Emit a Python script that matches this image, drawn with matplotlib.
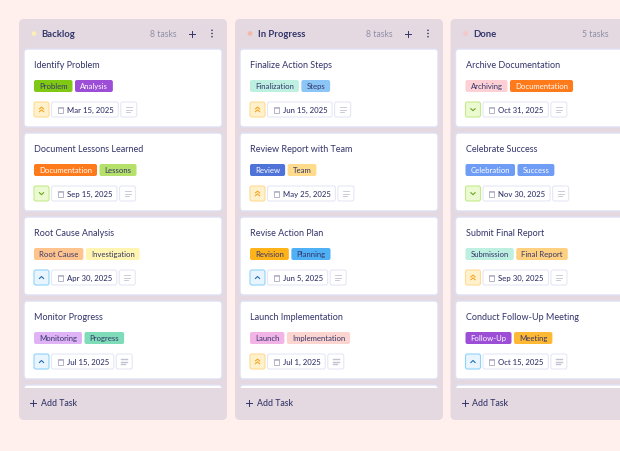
import matplotlib
matplotlib.use('Agg')
import matplotlib.pyplot as plt
from matplotlib.patches import FancyBboxPatch, Circle, Rectangle

plt.rcParams['font.family'] = ['Lato', 'DejaVu Sans']

NAVY = '#33356a'
GREY = '#8f8fa8'
WHITE = '#ffffff'

columns = ['Backlog', 'In Progress', 'Done']
task_counts = ['8 tasks', '8 tasks', '5 tasks']
dot_colors = ['#fdeeb5', '#f3b9a8', '#f6c8cc']

titles = [
    ['Identify Problem', 'Document Lessons Learned', 'Root Cause Analysis', 'Monitor Progress'],
    ['Finalize Action Steps', 'Review Report with Team', 'Revise Action Plan', 'Launch Implementation'],
    ['Archive Documentation', 'Celebrate Success', 'Submit Final Report', 'Conduct Follow-Up Meeting'],
]
dates = [
    ['Mar 15, 2025', 'Sep 15, 2025', 'Apr 30, 2025', 'Jul 15, 2025'],
    ['Jun 15, 2025', 'May 25, 2025', 'Jun 5, 2025', 'Jul 1, 2025'],
    ['Oct 31, 2025', 'Nov 30, 2025', 'Sep 30, 2025', 'Oct 15, 2025'],
]
priorities = [
    ['high', 'low', 'medium', 'medium'],
    ['high', 'high', 'medium', 'high'],
    ['low', 'low', 'high', 'medium'],
]
tags = [
    [('Problem', 'Analysis'), ('Documentation', 'Lessons'), ('Root Cause', 'Investigation'), ('Monitoring', 'Progress')],
    [('Finalization', 'Steps'), ('Review', 'Team'), ('Revision', 'Planning'), ('Launch', 'Implementation')],
    [('Archiving', 'Documentation'), ('Celebration', 'Success'), ('Submission', 'Final Report'), ('Follow-Up', 'Meeting')],
]
tag_colors = {
    'Problem': '#7fc914', 'Analysis': '#9c4fd6', 'Documentation': '#ff7a1a', 'Lessons': '#b5e06a',
    'Root Cause': '#ffc48e', 'Investigation': '#fff4b0', 'Monitoring': '#e0b3f7', 'Progress': '#7fdcb8',
    'Finalization': '#bdf0e0', 'Steps': '#8cc6f7', 'Review': '#4f73d9', 'Team': '#ffdb8c',
    'Revision': '#ffb31a', 'Planning': '#4fb0f5', 'Launch': '#f2b3e6', 'Implementation': '#fcd4d0',
    'Archiving': '#fcd0d4', 'Celebration': '#6f9cf5', 'Success': '#6f9cf5', 'Submission': '#bdf0e0',
    'Final Report': '#ffd080', 'Follow-Up': '#9c4fd6', 'Meeting': '#ffb833',
}
white_tags = ['Analysis', 'Documentation', 'Review', 'Celebration', 'Success', 'Follow-Up']
priority_styles = {
    'high': ('#fff1cc', '#ffdc94', '#f5a623'),
    'medium': ('#e8f5ff', '#8fd3fa', '#1f6fb5'),
    'low': ('#ecfad2', '#c5ea8a', '#6aa51c'),
}

fig = plt.figure(figsize=(6.2, 4.51), dpi=100, facecolor='#fff0ee')
ax = fig.add_axes([0, 0, 1, 1])
ax.set_xlim(0, 620)
ax.set_ylim(451, 0)
ax.axis('off')
renderer = fig.canvas.get_renderer()


def box(x, y, w, h, face, edge='none', r=2.0, lw=0.8, z=2):
    p = FancyBboxPatch((x + r, y + r), w - 2 * r, h - 2 * r, boxstyle='round,pad=%f,rounding_size=%f' % (r, r),
                       fc=face, ec=edge, lw=lw, zorder=z)
    ax.add_patch(p)
    return p


def label(x, y, s, size, color=NAVY, weight='normal', z=5):
    return ax.text(x, y, s, fontsize=size, color=color, fontweight=weight, va='center_baseline', ha='left', zorder=z)


def text_width(t):
    return t.get_window_extent(renderer).width


def draw_priority(x, y, kind):
    face, edge, mark = priority_styles[kind]
    box(x, y, 15, 15, face, edge)
    cx, cy = x + 7.5, y + 7.5
    if kind == 'high':
        for dy in (-1.8, 1.0):
            ax.plot([cx - 2.1, cx, cx + 2.1], [cy + dy + 1.2, cy + dy - 0.6, cy + dy + 1.2], color=mark, lw=0.8, zorder=5)
    elif kind == 'medium':
        ax.plot([cx - 2.1, cx, cx + 2.1], [cy + 1.0, cy - 1.0, cy + 1.0], color=mark, lw=0.8, zorder=5)
    else:
        ax.plot([cx - 2.1, cx, cx + 2.1], [cy - 0.8, cy + 1.2, cy - 0.8], color=mark, lw=0.8, zorder=5)


def draw_card(x, y, w, col, row):
    box(x, y, w, 78, WHITE, '#dfe0f3', r=3.5, lw=1.0)
    tx = x + 10
    label(tx, y + 15.5, titles[col][row], 6.5)

    # tags, widths follow the text
    px = tx
    for name in tags[col][row]:
        color = WHITE if name in white_tags else NAVY
        t = label(px + 5, y + 37, name, 5.6, color=color)
        tw = text_width(t) + 10
        box(px, y + 31, tw, 12, tag_colors[name], r=2.0, z=3)
        px += tw + 2.5

    # footer row
    fy = y + 53
    draw_priority(tx, fy, priorities[col][row])
    date_x = tx + 17.5
    ax.add_patch(Rectangle((date_x + 6, fy + 4.5), 5.2, 6, fc='none', ec='#a8a8be', lw=0.6, zorder=5))
    ax.plot([date_x + 6, date_x + 11.2], [fy + 6.3, fy + 6.3], color='#a8a8be', lw=0.5, zorder=5)
    t = label(date_x + 15.5, fy + 7.5, dates[col][row], 5.6, weight='medium')
    dw = text_width(t) + 20
    box(date_x, fy, dw, 15, WHITE, '#e6e7f5')
    nx = date_x + dw + 2.5
    box(nx, fy, 16, 15, WHITE, '#e6e7f5')
    note_lw = 1.0 if row == 3 else 0.6
    for dy, length in ((-2.2, 6), (0, 6), (2.2, 4)):
        ax.plot([nx + 5, nx + 5 + length], [fy + 7.5 + dy] * 2, color='#c2c2d3', lw=note_lw, zorder=5)


for col, name in enumerate(columns):
    x0 = 19 + 216 * col - (0.5 if col == 2 else 0)
    box(x0, 19, 208, 401, '#e4d9e0', r=5, z=1)

    ax.add_patch(Circle((x0 + 15, 33.5), 2.3, fc=dot_colors[col], ec='none', zorder=3))
    label(x0 + 22.5, 33.5, name, 6.8, weight='bold')
    label(x0 + 131.5, 33.5, task_counts[col], 6.2, color=GREY)
    ax.plot([x0 + 170, x0 + 176], [33.5, 33.5], color=NAVY, lw=0.7, zorder=5)
    ax.plot([x0 + 173, x0 + 173], [30.5, 36.5], color=NAVY, lw=0.7, zorder=5)
    for dy in (-3.2, 0, 3.2):
        ax.add_patch(Circle((x0 + 193, 33.5 + dy), 0.8, fc=NAVY, ec='none', zorder=5))

    cx = x0 + 5
    for row in range(4):
        draw_card(cx, 49 + 84 * row, 198, col, row)

    # top of the next card, cut off by the footer band
    box(cx, 385, 198, 20, WHITE, '#dfe0f3', r=3.5, lw=1.0, z=2)
    ax.add_patch(Rectangle((x0, 388), 208, 26, fc='#e4d9e0', ec='none', zorder=3))

    ax.plot([x0 + 11, x0 + 17], [403, 403], color=NAVY, lw=0.7, zorder=5)
    ax.plot([x0 + 14, x0 + 14], [400, 406], color=NAVY, lw=0.7, zorder=5)
    label(x0 + 22, 403, 'Add Task', 6.3, weight='medium')

fig.savefig('out.png', dpi=100, facecolor=fig.get_facecolor())
